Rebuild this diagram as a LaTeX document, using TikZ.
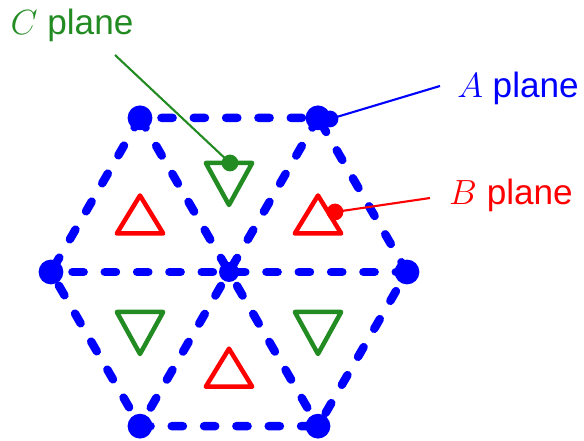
\documentclass[tikz,border=0pt]{standalone}
\usepackage{fontspec}
\setmainfont{Liberation Sans}
\usepackage{xcolor}
\usepackage{tikz}
\usetikzlibrary{calc}
\definecolor{ablue}{RGB}{0,0,255}
\definecolor{bred}{RGB}{255,0,0}
\definecolor{cgreen}{RGB}{34,139,34}
\tikzset{
  bond/.style={ablue, line width=6pt, dash pattern=on 8pt off 15pt, line cap=round},
  atom/.style={circle, fill=ablue, inner sep=0pt, minimum size=0.62cm},
  midatom/.style={circle, fill=ablue, inner sep=0pt, minimum size=0.5cm},
  site/.style={line width=3.2pt, line join=round},
  leader/.style={line width=1.5pt},
  tip/.style={circle, inner sep=0pt, minimum size=0.42cm},
  label/.style={anchor=base, font=\fontsize{25}{30}\selectfont}
}

\begin{document}
\begin{tikzpicture}
  \useasboundingbox (-5.725,-4.225) rectangle (8.875,6.8);

  % ── A plane: hexagon of atoms ────────────────────────────────────────────
  \coordinate (o) at (0,0);
  \foreach \i in {0,...,5}
    \coordinate (v\i) at (\i*60:4.45);
  \draw[bond] (v0) -- (v1) -- (v2) -- (v3) -- (v4) -- (v5) -- cycle;
  \draw[bond] (v0) -- (v3);
  \draw[bond] (v1) -- (v4);
  \draw[bond] (v2) -- (v5);
  \foreach \i in {0,...,5}
    \node[atom] (a\i) at (v\i) {};
  \node[midatom] (a6) at (o) {};

  % ── B plane: red sites (pointing up) ─────────────────────────────────────
  \foreach \x/\y in {-2.225/1.28, 2.225/1.28, 0/-2.55}
    \draw[site, bred] (\x,\y) ++(-0.58,-0.317) -- ++(0.58,0.95) -- ++(0.58,-0.95) -- cycle;

  % ── C plane: green sites (pointing down) ─────────────────────────────────
  \foreach \x/\y in {0/2.375, -2.225/-1.35, 2.225/-1.35}
    \draw[site, cgreen] (\x,\y) ++(-0.58,0.35) -- ++(0.58,-1.05) -- ++(0.58,1.05) -- cycle;

  % ── labels and leaders ───────────────────────────────────────────────────
  \node[label, cgreen] (clab) at (-3.925,5.925) {$C$ plane};
  \node[label, ablue]  (alab) at (7.225,4.35) {$A$ plane};
  \node[label, bred]   (blab) at (7.05,1.675) {$B$ plane};

  \coordinate (cfoot) at (-2.85,5.425);
  \coordinate (afoot) at (5.275,4.65);
  \coordinate (bfoot) at (5.025,1.85);
  \node[tip, fill=cgreen] (ctip) at (0.025,2.725) {};
  \node[tip, fill=ablue]  (atip) at (2.525,3.825) {};
  \node[tip, fill=bred]   (btip) at (2.65,1.5) {};

  \draw[leader, cgreen] (cfoot) -- (ctip.center);
  \draw[leader, ablue]  (afoot) -- (atip.center);
  \draw[leader, bred]   (bfoot) -- (btip.center);
\end{tikzpicture}
\end{document}
